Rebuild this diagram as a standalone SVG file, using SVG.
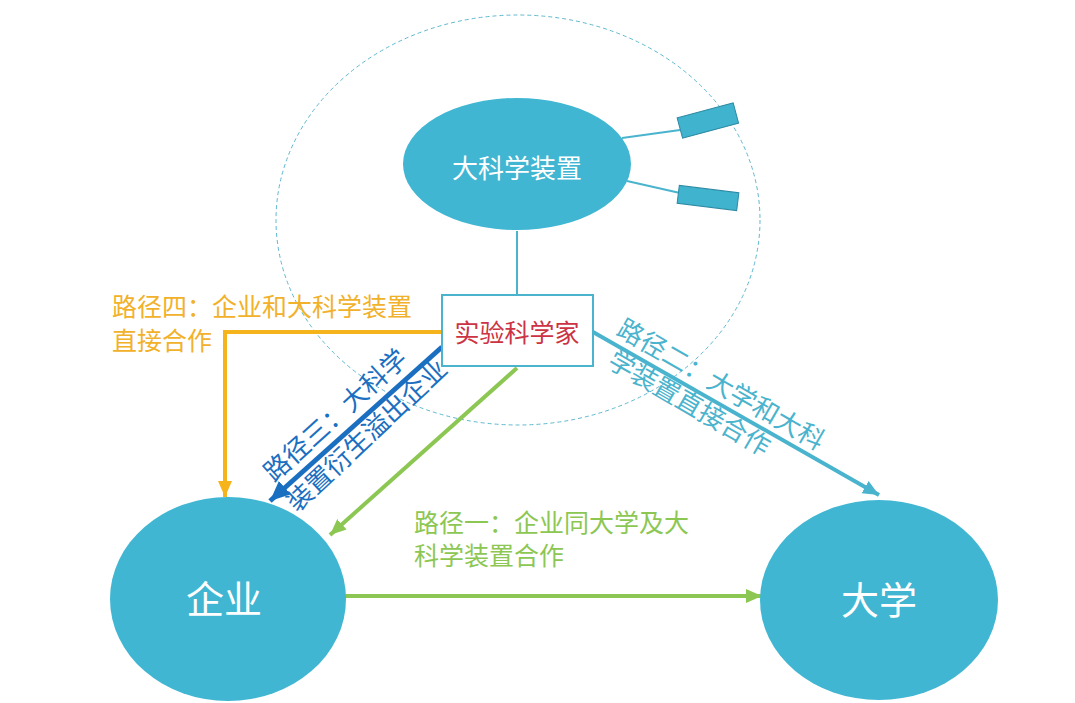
<svg xmlns="http://www.w3.org/2000/svg" width="1075" height="703" viewBox="0 0 1075 703">
<defs>
<style>
.cjk{font-family:"Noto Sans CJK SC","Noto Sans",sans-serif;}
.node{fill:#40b6d3;}
.w{fill:#ffffff;}
.teal{stroke:#4ab3cd;}
</style>
<marker id="aOr" markerUnits="userSpaceOnUse" markerWidth="20" markerHeight="20" refX="16" refY="7" orient="auto"><path d="M0,0 L16,7 L0,14 z" fill="#f5b31c"/></marker>
<marker id="aBl" markerUnits="userSpaceOnUse" markerWidth="24" markerHeight="24" refX="20" refY="9" orient="auto"><path d="M0,0 L20,9 L0,18 z" fill="#1b6fc0"/></marker>
<marker id="aGr" markerUnits="userSpaceOnUse" markerWidth="20" markerHeight="20" refX="16" refY="7" orient="auto"><path d="M0,0 L16,7 L0,14 z" fill="#8dc753"/></marker>
<marker id="aTl" markerUnits="userSpaceOnUse" markerWidth="20" markerHeight="20" refX="16" refY="7" orient="auto"><path d="M0,0 L16,7 L0,14 z" fill="#4ab3cd"/></marker>
</defs>
<rect width="1075" height="703" fill="#ffffff"/>

<g id="boundary">
<ellipse cx="518" cy="220" rx="242" ry="205" fill="none" stroke="#5fb8cf" stroke-width="1" stroke-dasharray="4,3"/>
</g>

<g id="connectors" fill="none">
<line x1="517" y1="231" x2="517" y2="295" stroke="#4ab3cd" stroke-width="2"/>
<line x1="622" y1="138" x2="680" y2="130" stroke="#4ab3cd" stroke-width="2"/>
<line x1="627" y1="181" x2="680" y2="193" stroke="#4ab3cd" stroke-width="2"/>
<polyline points="442,332 225,332 225,497" stroke="#f5b31c" stroke-width="4" marker-end="url(#aOr)"/>
<line x1="442" y1="347" x2="270" y2="501" stroke="#1b6fc0" stroke-width="5" marker-end="url(#aBl)"/>
<line x1="517" y1="368" x2="330" y2="535" stroke="#8dc753" stroke-width="4" marker-end="url(#aGr)"/>
<line x1="343" y1="596" x2="762" y2="596" stroke="#8dc753" stroke-width="4" marker-end="url(#aGr)"/>
<line x1="593" y1="332" x2="879" y2="495" stroke="#4ab3cd" stroke-width="4" marker-end="url(#aTl)"/>
</g>

<g id="facility">
<ellipse class="node" cx="517" cy="164" rx="114" ry="66"/>
<text class="cjk w" x="517" y="178" font-size="26" text-anchor="middle">大科学装置</text>
</g>
<g id="device1">
<rect x="679" y="110" width="58" height="21" fill="#40b3cf" stroke="#2d8aa3" stroke-width="1" transform="rotate(-15 708 121)"/>
</g>
<g id="device2">
<rect x="678" y="189" width="60" height="18" fill="#40b3cf" stroke="#2d8aa3" stroke-width="1" transform="rotate(7 708 198)"/>
</g>

<g id="scientist">
<rect x="442" y="295" width="151" height="71" fill="#ffffff" stroke="#4ab3cd" stroke-width="2"/>
<text class="cjk" x="517" y="342" font-size="25" text-anchor="middle" fill="#cc3344">实验科学家</text>
</g>

<g id="enterprise">
<ellipse class="node" cx="228" cy="599" rx="118" ry="102"/>
<text class="cjk w" x="224" y="613" font-size="38" text-anchor="middle">企业</text>
</g>
<g id="university">
<ellipse class="node" cx="879" cy="600" rx="119" ry="100"/>
<text class="cjk w" x="879" y="614" font-size="38" text-anchor="middle">大学</text>
</g>

<g id="labels" class="cjk">
<text x="112" y="316" font-size="25" fill="#f2b12a">路径四：企业和大科学装置</text>
<text x="112" y="350" font-size="25" fill="#f2b12a">直接合作</text>
<text x="414" y="532" font-size="25" fill="#8dc753">路径一：企业同大学及大</text>
<text x="414" y="565" font-size="25" fill="#8dc753">科学装置合作</text>
<text transform="translate(274 483) rotate(-42)" font-size="26" fill="#1b6fc0">路径三：大科学</text>
<text transform="translate(297 513) rotate(-43)" font-size="26" fill="#1b6fc0">装置衍生溢出企业</text>
<text transform="translate(615 334) rotate(30)" font-size="26" fill="#4ab3cd">路径二：大学和大科</text>
<text transform="translate(606 366) rotate(30)" font-size="26" fill="#4ab3cd">学装置直接合作</text>
</g>
</svg>
